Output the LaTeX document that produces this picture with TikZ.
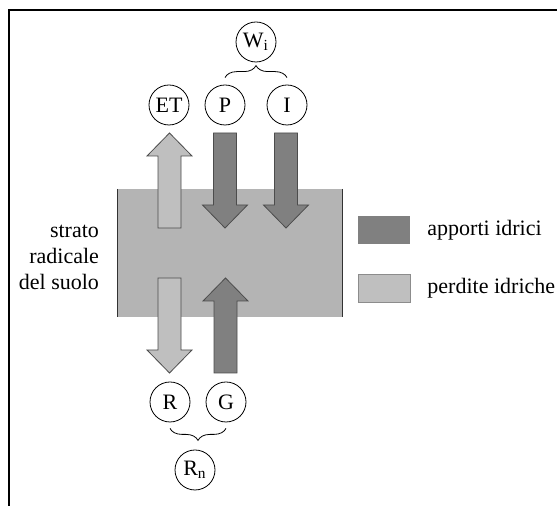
\documentclass[tikz,border=0pt]{standalone}
\usepackage{fontspec}
\setmainfont{Liberation Serif}
\usepackage{tikz}
\usetikzlibrary{decorations.pathreplacing, positioning}
\definecolor{scuro}{gray}{0.5}
\definecolor{chiaro}{gray}{0.75}
\definecolor{suolo}{gray}{0.706}

\begin{document}
\begin{tikzpicture}[x=0.5pt,y=-0.5pt,font=\fontsize{11}{13}\selectfont,
    pics/freccia/.style={code={
      \filldraw[fill=#1,draw=black!70,line width=0.4pt] (-11.5,0) -- (11.5,0) -- (11.5,72)
        -- (22.5,72) -- (0,95) -- (-22.5,72) -- (-11.5,72) -- cycle;}}]
        \useasboundingbox (0,0) rectangle (557,506);
        \draw[line width=1pt] (9,506) -- (9,10) -- (557,10);
        % strato radicale
        \fill[suolo] (117,189) rectangle (342,317);
        \draw[black!80] (117,189) -- (117,317) (342,189) -- (342,317);
        \node[anchor=east,align=right] (strato) at (106,257) {strato\\radicale\\del suolo};
        % frecce
        \pic[rotate=180] at (169.5,228) {freccia=chiaro};
        \pic at (225,133) {freccia=scuro};
        \pic at (286,133) {freccia=scuro};
        \pic at (169.5,278) {freccia=chiaro};
        \pic[rotate=180] at (225.5,373) {freccia=scuro};
        \begin{scope}[every node/.style={draw,circle,minimum size=20pt,inner sep=0pt}]
          \node (W) at (256,42) {W\textsubscript{i}};
          \node (ET) at (169,105) {ET};
          \node (P) at (225,105) {P};
          \node (I) at (287,105) {I};
          \node (R) at (170,402) {R};
          \node (G) at (226,402) {G};
          \node (Rn) at (195,470) {R\textsubscript{n}};
        \end{scope}
        \begin{scope}[every edge/.style={draw=black,decorate,decoration={brace,amplitude=6pt}}]
          \path ([yshift=3.5pt]P.north) edge ([yshift=3.5pt]I.north);
          \path ([yshift=-3pt]G.south) edge ([yshift=-3pt]R.south);
        \end{scope}
        % legenda
        \node[fill=scuro,minimum width=26pt,minimum height=14pt,inner sep=0pt] (apporti) at (384,230) {};
        \node[fill=chiaro,draw=black!45,minimum width=26pt,minimum height=14pt,inner sep=0pt] (perdite) at (384,288) {};
        \node[right=5pt of apporti] (tapporti) {apporti idrici};
        \node[right=5pt of perdite] (tperdite) {perdite idriche};
      \end{tikzpicture}
\end{document}
